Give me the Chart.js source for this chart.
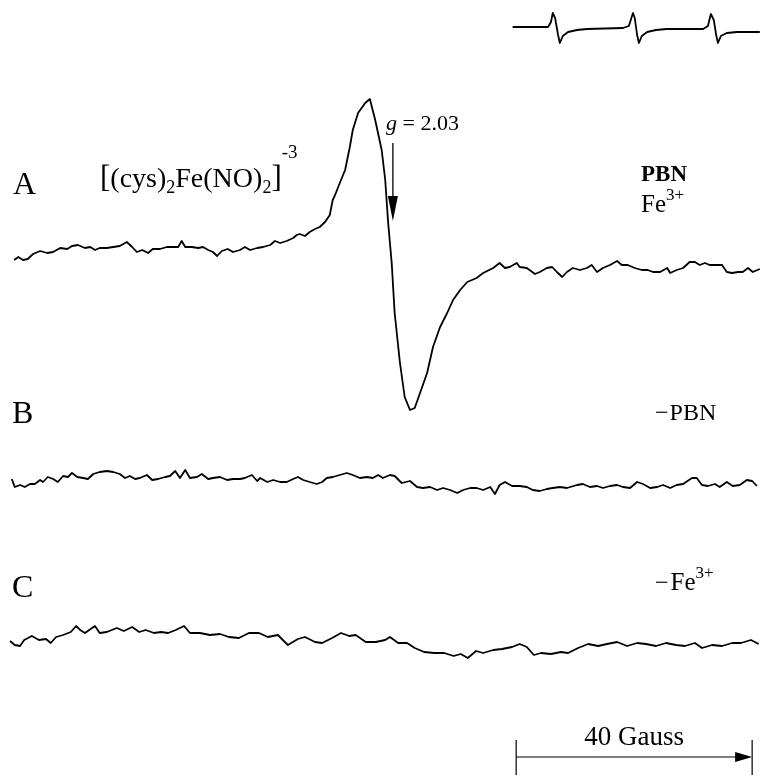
<!DOCTYPE html>
<html>
<head>
<meta charset="utf-8">
<script src="https://cdn.jsdelivr.net/npm/chart.js@4/dist/chart.umd.min.js"></script>
<style>
  html, body { margin: 0; padding: 0; background: #ffffff; }
  #wrap { width: 761px; height: 775px; position: relative; }
  canvas { display: block; }
</style>
</head>
<body>
<div id="wrap"><canvas id="c" width="761" height="775"></canvas></div>
<script>
// ---------- DATA (magnetic field in Gauss, signal in arbitrary units) ----------
const fieldRef = [86.9, 92.9, 93.4, 93.7, 94.1, 94.6, 94.9, 95.4, 96.3, 97.8, 99.5, 105.6, 106.6, 107.3, 107.6, 108.0, 108.3, 108.8, 109.7, 111.2, 113.0, 119.2, 120.0, 120.5, 121.0, 121.4, 121.7, 122.2, 123.2, 124.9, 128.8];
const signalRef = [1, 1, 6, 15, 10, -7, -15, -8, -4, -2, -1, 0, 2, 15, 10, -7, -15, -8, -4, -2, -1, -1, 2, 14, 8, -7, -15, -8, -5, -4, -4];

const fieldA = [2.4, 3.1, 3.9, 4.7, 5.6, 6.8, 8.0, 9.0, 10.2, 11.4, 12.2, 13.2, 14.4, 15.3, 16.1, 16.9, 18.1, 19.2, 20.3, 21.5, 22.4, 23.2, 24.1, 25.1, 25.9, 27.1, 28.3, 29.3, 30.2, 30.8, 31.4, 32.5, 33.6, 34.4, 35.3, 36.1, 36.8, 37.6, 38.6, 39.5, 40.7, 41.5, 42.4, 43.6, 44.6, 45.8, 46.6, 47.5, 48.6, 49.7, 50.3, 50.8, 51.7, 52.5, 53.4, 54.2, 55.1, 55.9, 56.4, 56.8, 57.6, 58.5, 59.3, 59.8, 60.7, 61.9, 62.7, 63.6, 64.7, 65.3, 65.8, 66.4, 66.9, 67.8, 68.6, 69.5, 70.3, 71.2, 72.4, 73.4, 74.6, 75.8, 76.8, 78.0, 79.2, 80.8, 81.9, 83.6, 84.7, 85.6, 86.4, 87.6, 88.1, 89.3, 90.7, 91.5, 92.7, 93.6, 94.4, 95.3, 96.1, 97.1, 98.3, 99.5, 100.3, 101.2, 102.2, 103.4, 104.6, 105.4, 106.4, 107.6, 108.8, 109.8, 110.7, 111.9, 113.1, 113.6, 114.7, 115.8, 116.9, 117.8, 118.6, 119.5, 120.3, 121.5, 122.4, 123.2, 124.1, 125.1, 125.9, 126.8, 127.6, 128.8];
const signalA = [2, 5, 2, 3, 8, 11, 9, 10, 14, 13, 16, 17, 14, 15, 12, 14, 14, 15, 16, 20, 15, 10, 12, 9, 13, 13, 15, 15, 15, 21, 15, 15, 14, 15, 12, 10, 6, 11, 13, 10, 12, 15, 12, 14, 15, 17, 21, 19, 21, 24, 27, 28, 26, 30, 33, 35, 40, 47, 62, 67, 79, 92, 115, 132, 149, 159, 163, 142, 112, 82, 39, -1, -51, -101, -135, -148, -146, -131, -111, -85, -65, -51, -38, -28, -20, -16, -11, -6, -1, -6, -5, -1, -5, -6, -12, -10, -6, -5, -10, -15, -10, -6, -8, -6, -3, -10, -6, -3, 1, -3, -3, -6, -8, -8, -10, -10, -6, -11, -8, -6, 0, 0, -3, -1, -3, -3, -3, -10, -11, -10, -10, -6, -10, -7];

const fieldB = [2.0, 2.5, 3.4, 4.2, 5.1, 5.9, 6.8, 7.3, 8.1, 9.0, 9.8, 10.7, 11.5, 12.2, 13.1, 14.1, 14.9, 15.8, 16.9, 18.1, 19.2, 20.3, 21.2, 22.0, 22.9, 23.7, 24.9, 25.8, 26.8, 28.0, 28.8, 29.7, 30.5, 31.4, 32.2, 33.4, 34.2, 35.3, 36.1, 37.3, 38.5, 39.5, 40.7, 41.5, 42.7, 43.6, 44.1, 45.3, 46.3, 47.5, 48.6, 49.7, 50.5, 51.4, 52.5, 53.7, 54.6, 55.4, 56.4, 57.6, 58.8, 59.8, 61.0, 62.2, 63.2, 64.1, 64.9, 66.1, 66.9, 68.1, 69.5, 70.7, 71.7, 72.9, 74.1, 75.1, 76.3, 77.5, 78.5, 79.7, 80.8, 81.9, 83.1, 83.9, 84.7, 85.6, 86.8, 88.1, 89.3, 90.3, 91.5, 92.7, 93.7, 94.9, 96.1, 97.8, 98.8, 100.0, 101.2, 102.2, 103.4, 104.6, 105.6, 106.8, 108.0, 109.0, 110.2, 111.4, 112.4, 113.6, 114.7, 115.8, 117.3, 118.1, 119.0, 120.0, 121.2, 122.0, 123.2, 124.2, 125.4, 126.6, 127.5, 128.3];
const signalB = [3, -5, -3, -5, -2, -2, 2, 0, 5, 3, 0, 6, 5, 9, 5, 4, 3, 8, 10, 11, 10, 8, 4, 6, 3, 4, 7, 2, 3, 5, 6, 11, 4, 12, 4, 5, 8, 3, 4, 5, 2, 3, 3, 4, 7, 1, 4, 0, 2, 0, 0, 3, 5, 2, 0, -2, 0, 4, 5, 7, 9, 7, 4, 5, 4, 7, 4, 7, 6, -1, 1, -5, -6, -5, -8, -6, -8, -11, -8, -6, -6, -8, -5, -12, -3, 0, -4, -4, -5, -8, -9, -7, -6, -5, -6, -3, -2, -5, -4, -6, -4, -3, -5, -6, 0, -2, -6, -5, -3, -6, -3, -2, 4, 4, -3, -4, -2, -5, 0, -4, -3, 2, 1, -4];

const fieldC = [1.7, 2.5, 3.4, 4.1, 5.4, 6.6, 7.8, 8.6, 9.5, 10.7, 12.0, 12.9, 13.6, 14.4, 16.1, 16.9, 18.1, 19.8, 21.0, 22.4, 23.6, 24.7, 26.1, 27.3, 28.5, 29.8, 31.2, 32.2, 33.9, 35.6, 37.3, 38.8, 40.5, 42.2, 43.9, 45.4, 47.1, 48.8, 50.5, 51.7, 53.4, 54.6, 56.3, 57.8, 59.2, 60.3, 62.0, 63.7, 65.3, 66.1, 67.5, 69.0, 70.3, 71.9, 73.6, 75.3, 76.9, 78.1, 79.3, 80.7, 81.9, 83.6, 85.1, 86.8, 88.1, 89.3, 90.5, 91.7, 93.4, 95.1, 96.3, 98.0, 99.7, 101.4, 102.9, 104.6, 106.3, 108.0, 109.5, 111.2, 112.9, 114.6, 116.1, 117.8, 119.0, 120.7, 122.4, 124.1, 125.6, 127.3, 128.6];
const signalC = [1, -3, -4, 2, 6, 2, 3, -1, 5, 7, 10, 16, 12, 9, 16, 9, 10, 14, 11, 15, 10, 12, 9, 10, 9, 12, 16, 9, 9, 7, 8, 5, 4, 9, 9, 5, 7, -3, 3, 5, 0, -1, 4, 9, 6, 7, 0, 0, 2, 5, -1, -1, -6, -10, -11, -11, -14, -12, -16, -9, -11, -8, -7, -5, -2, -5, -13, -11, -12, -10, -11, -6, -2, -4, -2, 0, -4, -1, -2, -4, -1, -3, -4, -1, -6, -3, -4, -1, -1, 2, -2];

// vertical offsets of the stacked traces (a.u.)
const offsetRef = 747, offsetA = 513, offsetB = 293, offsetC = 133;

// annotation values
const gMarkerField = 66.6;      // g = 2.03 position (G)
const scaleBarStart = 87.5;     // G
const scaleBarSpan = 40;        // G
const traceLabels = ['A', 'B', 'C'];

// ---------- CHART ----------
function toPoints(fields, sig, off) {
  return fields.map((f, i) => ({ x: f, y: off + sig[i] }));
}
function ds(fields, sig, off) {
  return {
    data: toPoints(fields, sig, off),
    showLine: true, borderColor: '#000', backgroundColor: '#000',
    borderWidth: 1.8, pointRadius: 0, tension: 0, borderJoinStyle: 'round'
  };
}

const SERIF = '"Liberation Serif", "Times New Roman", serif';

function rich(ctx, x, y, parts) {
  let cx = x;
  parts.forEach(p => {
    ctx.font = (p.style || '') + ' ' + p.size + 'px ' + SERIF;
    ctx.fillText(p.t, cx, y + (p.dy || 0));
    cx += ctx.measureText(p.t).width + (p.gap || 0);
  });
  return cx;
}

const annot = {
  id: 'annot',
  afterDraw(chart) {
    const ctx = chart.ctx;
    const xs = chart.scales.x;
    ctx.save();
    ctx.fillStyle = '#000';
    ctx.strokeStyle = '#000';
    ctx.textBaseline = 'alphabetic';
    ctx.textAlign = 'left';

    // trace letters
    ctx.font = '32px ' + SERIF;
    ctx.fillText(traceLabels[0], 13, 194);
    ctx.fillText(traceLabels[1], 12, 423);
    ctx.fillText(traceLabels[2], 12, 597);

    // complex formula
    rich(ctx, 100, 187, [
      { t: '[', size: 31 },
      { t: '(cys)', size: 28 },
      { t: '2', size: 18, dy: 6 },
      { t: 'Fe(NO)', size: 28 },
      { t: '2', size: 18, dy: 6 },
      { t: ']', size: 31 },
      { t: '-3', size: 19, dy: -29 }
    ]);

    // g marker
    rich(ctx, 386, 130, [
      { t: 'g', size: 22, style: 'italic' },
      { t: ' = 2.03', size: 22 }
    ]);
    const gx = xs.getPixelForValue(gMarkerField);
    ctx.lineWidth = 1.3;
    ctx.beginPath(); ctx.moveTo(gx, 143); ctx.lineTo(gx, 205); ctx.stroke();
    ctx.beginPath(); ctx.moveTo(gx - 5, 196); ctx.lineTo(gx + 5, 196); ctx.lineTo(gx, 221); ctx.closePath(); ctx.fill();

    // right side condition labels
    ctx.font = 'bold 23px ' + SERIF;
    ctx.fillText('PBN', 641, 181);
    rich(ctx, 641, 212, [{ t: 'Fe', size: 25 }, { t: '3+', size: 17, dy: -12 }]);
    rich(ctx, 655, 420, [{ t: '\u2212', size: 24, gap: 1 }, { t: 'PBN', size: 24 }]);
    rich(ctx, 655, 590, [{ t: '\u2212', size: 24, gap: 2 }, { t: 'Fe', size: 25 }, { t: '3+', size: 17, dy: -12 }]);

    // scale bar
    const x0 = xs.getPixelForValue(scaleBarStart);
    const x1 = xs.getPixelForValue(scaleBarStart + scaleBarSpan);
    ctx.lineWidth = 1.2;
    ctx.beginPath();
    ctx.moveTo(x0, 740); ctx.lineTo(x0, 775);
    ctx.moveTo(x1, 740); ctx.lineTo(x1, 775);
    ctx.moveTo(x0, 757); ctx.lineTo(x1 - 10, 757);
    ctx.stroke();
    ctx.beginPath(); ctx.moveTo(x1, 757); ctx.lineTo(x1 - 17, 752); ctx.lineTo(x1 - 17, 762); ctx.closePath(); ctx.fill();
    ctx.font = '27px ' + SERIF;
    ctx.textAlign = 'center';
    ctx.fillText('40 Gauss', (x0 + x1) / 2, 745);
    ctx.restore();
  }
};

new Chart(document.getElementById('c'), {
  type: 'scatter',
  data: {
    datasets: [
      ds(fieldRef, signalRef, offsetRef),
      ds(fieldA, signalA, offsetA),
      ds(fieldB, signalB, offsetB),
      ds(fieldC, signalC, offsetC)
    ]
  },
  options: {
    responsive: false,
    animation: false,
    devicePixelRatio: 1,
    layout: { padding: 0 },
    plugins: { legend: { display: false }, tooltip: { enabled: false } },
    scales: {
      x: { type: 'linear', min: 0, max: 129, display: false },
      y: { type: 'linear', min: 0, max: 775, display: false }
    }
  },
  plugins: [annot]
});
</script>
</body>
</html>
